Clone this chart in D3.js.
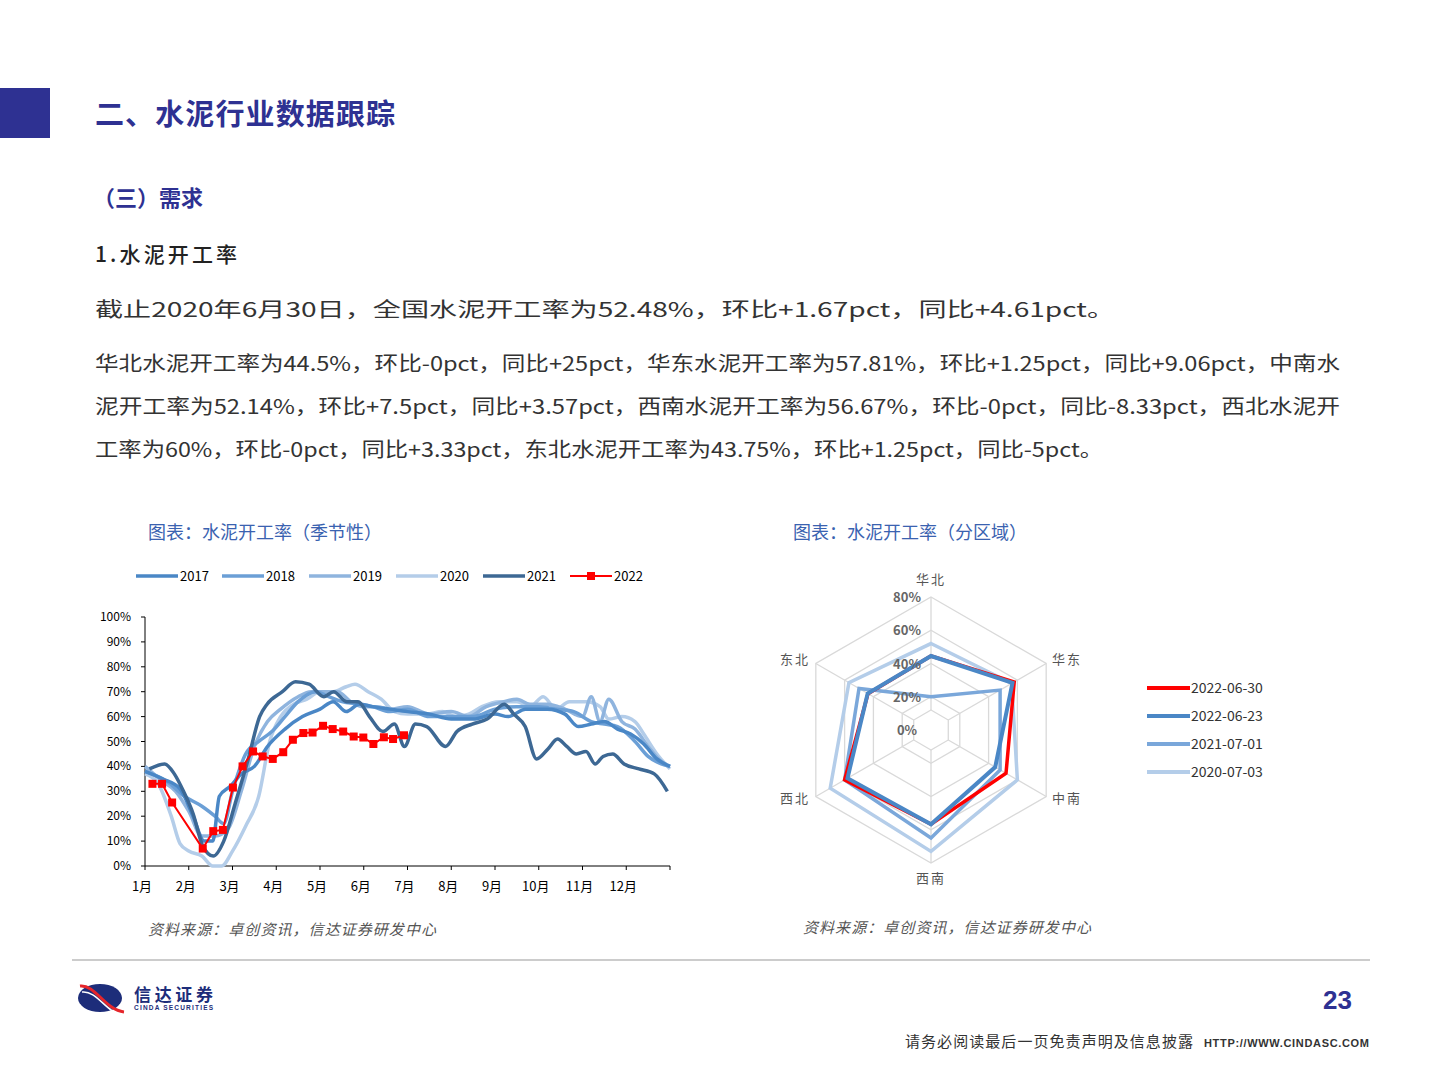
<!DOCTYPE html>
<html>
<head>
<meta charset="utf-8">
<script src="https://cdn.jsdelivr.net/npm/d3@7"></script>
<style>
  body { margin: 0; background: #fff; }
  svg { display: block; font-family: "Noto Sans CJK SC", "Noto Sans", sans-serif; }
</style>
</head>
<body>
<svg id="page" width="1440" height="1080"></svg>
<script>
// ---------------- data ----------------
const monthLabels = ["1月","2月","3月","4月","5月","6月","7月","8月","9月","10月","11月","12月"];
const yTicks = [0,10,20,30,40,50,60,70,80,90,100];

// [month position (0 = start of Jan), rate %]
const s2017 = [[0,38],[0.4,35],[0.8,31],[1.1,20],[1.35,10],[1.55,10],[1.7,28],[1.95,32],[2.2,37],[2.5,40],[2.8,48],[3.2,55],[3.6,60],[4.0,63],[4.3,66],[4.6,62],[4.9,65],[5.2,64],[5.6,63],[6.0,62],[6.5,61],[7.0,59],[7.5,59],[8.0,61],[8.3,60],[8.7,63],[9.2,63],[9.6,61],[9.9,56],[10.2,57],[10.5,58],[10.8,55],[11.1,53],[11.4,49],[11.7,43],[12,40]];
const s2018 = [[0,38],[0.5,34],[0.9,28],[1.3,24],[1.6,20],[1.8,17],[2.0,30],[2.3,45],[2.6,50],[2.9,54],[3.2,60],[3.5,66],[3.9,70],[4.2,68],[4.5,66],[4.9,65],[5.2,64],[5.6,62],[6.0,63],[6.5,60],[7.0,60],[7.5,60],[8.0,63],[8.5,64],[9.0,64],[9.4,63],[9.8,62],[10.2,58],[10.5,57],[10.8,56],[11.2,50],[11.5,44],[11.8,41],[12,40]];
const s2019 = [[0,40],[0.4,34],[0.7,30],[1.0,22],[1.3,12],[1.6,12],[1.9,15],[2.2,30],[2.5,48],[2.8,58],[3.1,63],[3.5,68],[3.8,70],[4.1,70],[4.4,70],[4.7,66],[5.0,64],[5.3,64],[5.6,63],[6.0,64],[6.5,61],[7.0,62],[7.4,60],[7.8,64],[8.2,66],[8.5,67],[8.8,65],[9.2,65],[9.6,63],[10.0,60],[10.2,68],[10.4,58],[10.6,67],[10.9,58],[11.2,55],[11.5,48],[11.8,42],[12,40]];
const s2020 = [[0,37],[0.3,33],[0.6,20],[0.8,9],[1.0,6],[1.3,4],[1.55,0],[1.75,0],[2.0,6],[2.3,16],[2.6,28],[2.85,50],[3.1,60],[3.4,65],[3.7,67],[4.0,70],[4.3,70],[4.6,72],[4.8,73],[5.1,70],[5.4,67],[5.7,62],[6.0,61],[6.4,61],[6.8,62],[7.1,60],[7.4,61],[7.7,64],[8.1,66],[8.5,66],[8.8,64],[9.1,68],[9.4,63],[9.7,66],[10.1,66],[10.4,64],[10.6,59],[10.9,60],[11.2,58],[11.4,53],[11.7,45],[12,39]];
const s2021 = [[0.10,39],[0.45,41],[0.67,37],[0.88,30],[1.10,21],[1.32,8],[1.56,4],[1.80,10],[2.06,25],[2.36,43],[2.62,60],[2.79,65],[3.14,70],[3.44,74],[3.75,73],[4.09,68],[4.31,70],[4.61,66],[4.87,66],[5.13,60],[5.44,54],[5.70,57],[5.93,48],[6.18,57],[6.44,56],[6.87,48],[7.13,54],[7.48,57],[7.82,59],[8.21,65],[8.43,61],[8.69,56],[8.95,43],[9.21,47],[9.43,51],[9.64,48],[9.86,45],[10.08,46],[10.29,41],[10.47,44],[10.69,45],[10.95,41],[11.29,39],[11.64,37],[11.94,30]];
const s2022 = [[0.17,33],[0.39,33],[0.62,25.5],[1.32,7],[1.56,14],[1.78,14.5],[2.01,31.5],[2.23,40],[2.47,46],[2.69,44],[2.92,43],[3.16,45.7],[3.38,50.7],[3.62,53.4],[3.83,53.6],[4.07,56.3],[4.29,55],[4.53,54],[4.77,52],[4.99,51.6],[5.22,49],[5.46,51.7],[5.67,51],[5.92,52.5]];

const seriesNames = ["2017","2018","2019","2020","2021","2022"];
const seriesColors = ["#4a87c6","#6b9fd6","#8fb4de","#b4cde9","#3d6894","#ff0000"];
const seriesData = [s2017, s2018, s2019, s2020, s2021, s2022];

const regions = ["华北","华东","中南","西南","西北","东北"];
const radarTicks = [0,20,40,60,80];
const radarRings = [12,20,40,60,80];
const radarNames = ["2022-06-30","2022-06-23","2021-07-01","2020-07-03"];
const radarColors = ["#ff0000","#4a87c6","#7aa7da","#b4cde9"];
const r20220630 = [44.5,57.8,52.1,56.7,60,43.75];
const r20220623 = [44.5,56.6,44.6,56.7,58,44];
const r20210701 = [20,48,48,65,60,50];
const r20200703 = [52,56,60,73,70,57];
const radarData = [r20220630, r20220623, r20210701, r20200703];

// ---------------- page ----------------
const svg = d3.select("#page");
const navy = "#2e3192";

svg.append("rect").attr("x",0).attr("y",88).attr("width",50).attr("height",50).attr("fill","#2e3192");
svg.append("text").attr("x",95).attr("y",125).attr("font-size",29).attr("font-weight","bold")
  .attr("fill",navy).attr("textLength",300).text("二、水泥行业数据跟踪");
svg.append("text").attr("x",93).attr("y",206).attr("font-size",22).attr("font-weight","bold")
  .attr("fill",navy).text("（三）需求");
svg.append("text").attr("x",95).attr("y",262).attr("font-size",21).attr("font-weight",500).attr("fill","#222")
  .attr("textLength",142).text("1.水泥开工率");

const para = [
  [317,"截止2020年6月30日，全国水泥开工率为52.48%，环比+1.67pct，同比+4.61pct。",1020],
  [371,"华北水泥开工率为44.5%，环比-0pct，同比+25pct，华东水泥开工率为57.81%，环比+1.25pct，同比+9.06pct，中南水",1245],
  [414,"泥开工率为52.14%，环比+7.5pct，同比+3.57pct，西南水泥开工率为56.67%，环比-0pct，同比-8.33pct，西北水泥开",1245],
  [457,"工率为60%，环比-0pct，同比+3.33pct，东北水泥开工率为43.75%，环比+1.25pct，同比-5pct。",1008]
];
para.forEach(([y,t,w]) => {
  svg.append("text").attr("x",95).attr("y",y).attr("font-size",20).attr("fill","#333")
    .attr("textLength",w).attr("lengthAdjust","spacingAndGlyphs").text(t);
});

// ---------------- line chart ----------------
const titleColor = "#3a62b0";
svg.append("text").attr("x",148).attr("y",539).attr("font-size",18).attr("fill",titleColor)
  .text("图表：水泥开工率（季节性）");

const x = d3.scaleLinear().domain([0,12]).range([145,670]);
const y = d3.scaleLinear().domain([0,100]).range([866,617]);

const axisG = svg.append("g").attr("font-size",12);
axisG.append("line").attr("x1",x(0)).attr("x2",x(0)).attr("y1",y(0)).attr("y2",y(100)).attr("stroke","#000");
axisG.append("line").attr("x1",x(0)).attr("x2",x(12)).attr("y1",y(0)).attr("y2",y(0)).attr("stroke","#000");
yTicks.forEach(v => {
  axisG.append("line").attr("x1",x(0)-4).attr("x2",x(0)).attr("y1",y(v)).attr("y2",y(v)).attr("stroke","#000");
  axisG.append("text").attr("x",x(0)-14).attr("y",y(v)+4).attr("text-anchor","end").text(v + "%");
});
d3.range(13).forEach(i => {
  axisG.append("line").attr("x1",x(i)).attr("x2",x(i)).attr("y1",y(0)).attr("y2",y(0)+4).attr("stroke","#000");
});
monthLabels.forEach((m,i) => {
  axisG.append("text").attr("x",x(i)-3).attr("y",891).attr("text-anchor","middle").attr("font-size",13).text(m);
});

const line = d3.line().x(d => x(d[0])).y(d => y(d[1])).curve(d3.curveMonotoneX);
[3,2,1,0,4].forEach(i => {
  svg.append("path").datum(seriesData[i]).attr("fill","none")
    .attr("stroke",seriesColors[i]).attr("stroke-width",3.5).attr("d",line);
});
svg.append("path").datum(s2022).attr("fill","none").attr("stroke","#ff0000").attr("stroke-width",2)
  .attr("d", d3.line().x(d => x(d[0])).y(d => y(d[1])));
svg.selectAll("rect.mk").data(s2022).join("rect").attr("class","mk")
  .attr("x",d => x(d[0])-4).attr("y",d => y(d[1])-4).attr("width",8).attr("height",8).attr("fill","#ff0000");

// legend
const legX = [136,222,309,396,483,570];
seriesNames.forEach((n,i) => {
  const g = svg.append("g").attr("transform",`translate(${legX[i]},576)`);
  g.append("line").attr("x1",0).attr("x2",42).attr("stroke",seriesColors[i]).attr("stroke-width",i===5?2:3.5);
  if (i === 5) g.append("rect").attr("x",17).attr("y",-4).attr("width",8).attr("height",8).attr("fill","#ff0000");
  g.append("text").attr("x",44).attr("y",5).attr("font-size",13).text(n);
});

svg.append("text").attr("x",148).attr("y",935).attr("font-size",15).attr("font-style","italic")
  .attr("fill","#555").attr("textLength",288).text("资料来源：卓创资讯，信达证券研发中心");

// ---------------- radar chart ----------------
svg.append("text").attr("x",793).attr("y",539).attr("font-size",18).attr("fill",titleColor)
  .text("图表：水泥开工率（分区域）");

const cx = 931, cy = 730;
const rr = d3.scaleLinear().domain([0,80]).range([0,133]);
const ang = i => -Math.PI/2 + i * Math.PI/3;
const pt = (i,v) => [cx + rr(v)*Math.cos(ang(i)), cy + rr(v)*Math.sin(ang(i))];

radarRings.forEach(t => {
  svg.append("polygon").attr("points", regions.map((_,i) => pt(i,t).join(",")).join(" "))
    .attr("fill","none").attr("stroke","#d9d9d9").attr("stroke-width",1.3);
});
regions.forEach((_,i) => {
  svg.append("line").attr("x1",pt(i,12)[0]).attr("y1",pt(i,12)[1]).attr("x2",pt(i,80)[0]).attr("y2",pt(i,80)[1])
    .attr("stroke","#d9d9d9").attr("stroke-width",1.3);
});

const radarLine = d3.lineRadial().angle((d,i) => i*Math.PI/3).radius(d => rr(d)).curve(d3.curveLinearClosed);
[3,2,0,1].forEach(k => {
  svg.append("path").datum(radarData[k]).attr("transform",`translate(${cx},${cy})`)
    .attr("d",radarLine).attr("fill","none").attr("stroke",radarColors[k]).attr("stroke-width",k===1?4:3.5);
});

radarTicks.forEach(t => {
  svg.append("text").attr("x",cx-24).attr("y",cy - rr(t) + 5).attr("text-anchor","middle")
    .attr("font-size",13).attr("font-weight","bold").attr("fill","#666").text(t + "%");
});
const labPos = [[931,584],[1067,664],[1067,803],[931,883],[795,803],[795,664]];
regions.forEach((r,i) => {
  svg.append("text").attr("x",labPos[i][0]).attr("y",labPos[i][1]).attr("text-anchor","middle")
    .attr("font-size",13).attr("fill","#555").attr("letter-spacing",2).text(r);
});

radarNames.forEach((n,i) => {
  const g = svg.append("g").attr("transform",`translate(1147,${688 + i*28})`);
  g.append("line").attr("x1",0).attr("x2",43).attr("stroke",radarColors[i]).attr("stroke-width",4);
  g.append("text").attr("x",44).attr("y",5).attr("font-size",14).attr("fill","#333").text(n);
});

svg.append("text").attr("x",803).attr("y",933).attr("font-size",15).attr("font-style","italic")
  .attr("fill","#555").attr("textLength",288).text("资料来源：卓创资讯，信达证券研发中心");

// ---------------- footer ----------------
svg.append("line").attr("x1",72).attr("x2",1370).attr("y1",960).attr("y2",960).attr("stroke","#bbb").attr("stroke-width",1.5);
svg.append("ellipse").attr("cx",100).attr("cy",998).attr("rx",22).attr("ry",14).attr("fill","#1d2d7a");
svg.append("path").attr("d","M80,986 C95,984 105,1010 124,1012").attr("fill","none").attr("stroke","#e5252a").attr("stroke-width",3);
svg.append("path").attr("d","M82,992 C97,990 107,1014 122,1014").attr("fill","none").attr("stroke","#fff").attr("stroke-width",1.5);
svg.append("text").attr("x",134).attr("y",1001).attr("font-size",17).attr("font-weight","bold").attr("fill","#1d2d7a")
  .attr("textLength",79).text("信达证券");
svg.append("text").attr("x",134).attr("y",1010).attr("font-size",6.5).attr("font-weight","bold").attr("fill","#1d2d7a")
  .attr("font-family","Liberation Sans").attr("textLength",79).text("CINDA SECURITIES");
svg.append("text").attr("x",1352).attr("y",1009).attr("text-anchor","end").attr("font-size",26).attr("font-weight","bold")
  .attr("fill","#2e3192").attr("font-family","Liberation Sans").text("23");
svg.append("text").attr("x",905).attr("y",1047).attr("font-size",15).attr("fill","#333").attr("textLength",288).text("请务必阅读最后一页免责声明及信息披露");
svg.append("text").attr("x",1204).attr("y",1047).attr("font-size",11).attr("font-weight","bold").attr("fill","#333")
  .attr("font-family","Liberation Sans").attr("textLength",165).text("HTTP://WWW.CINDASC.COM");
</script>
</body>
</html>
